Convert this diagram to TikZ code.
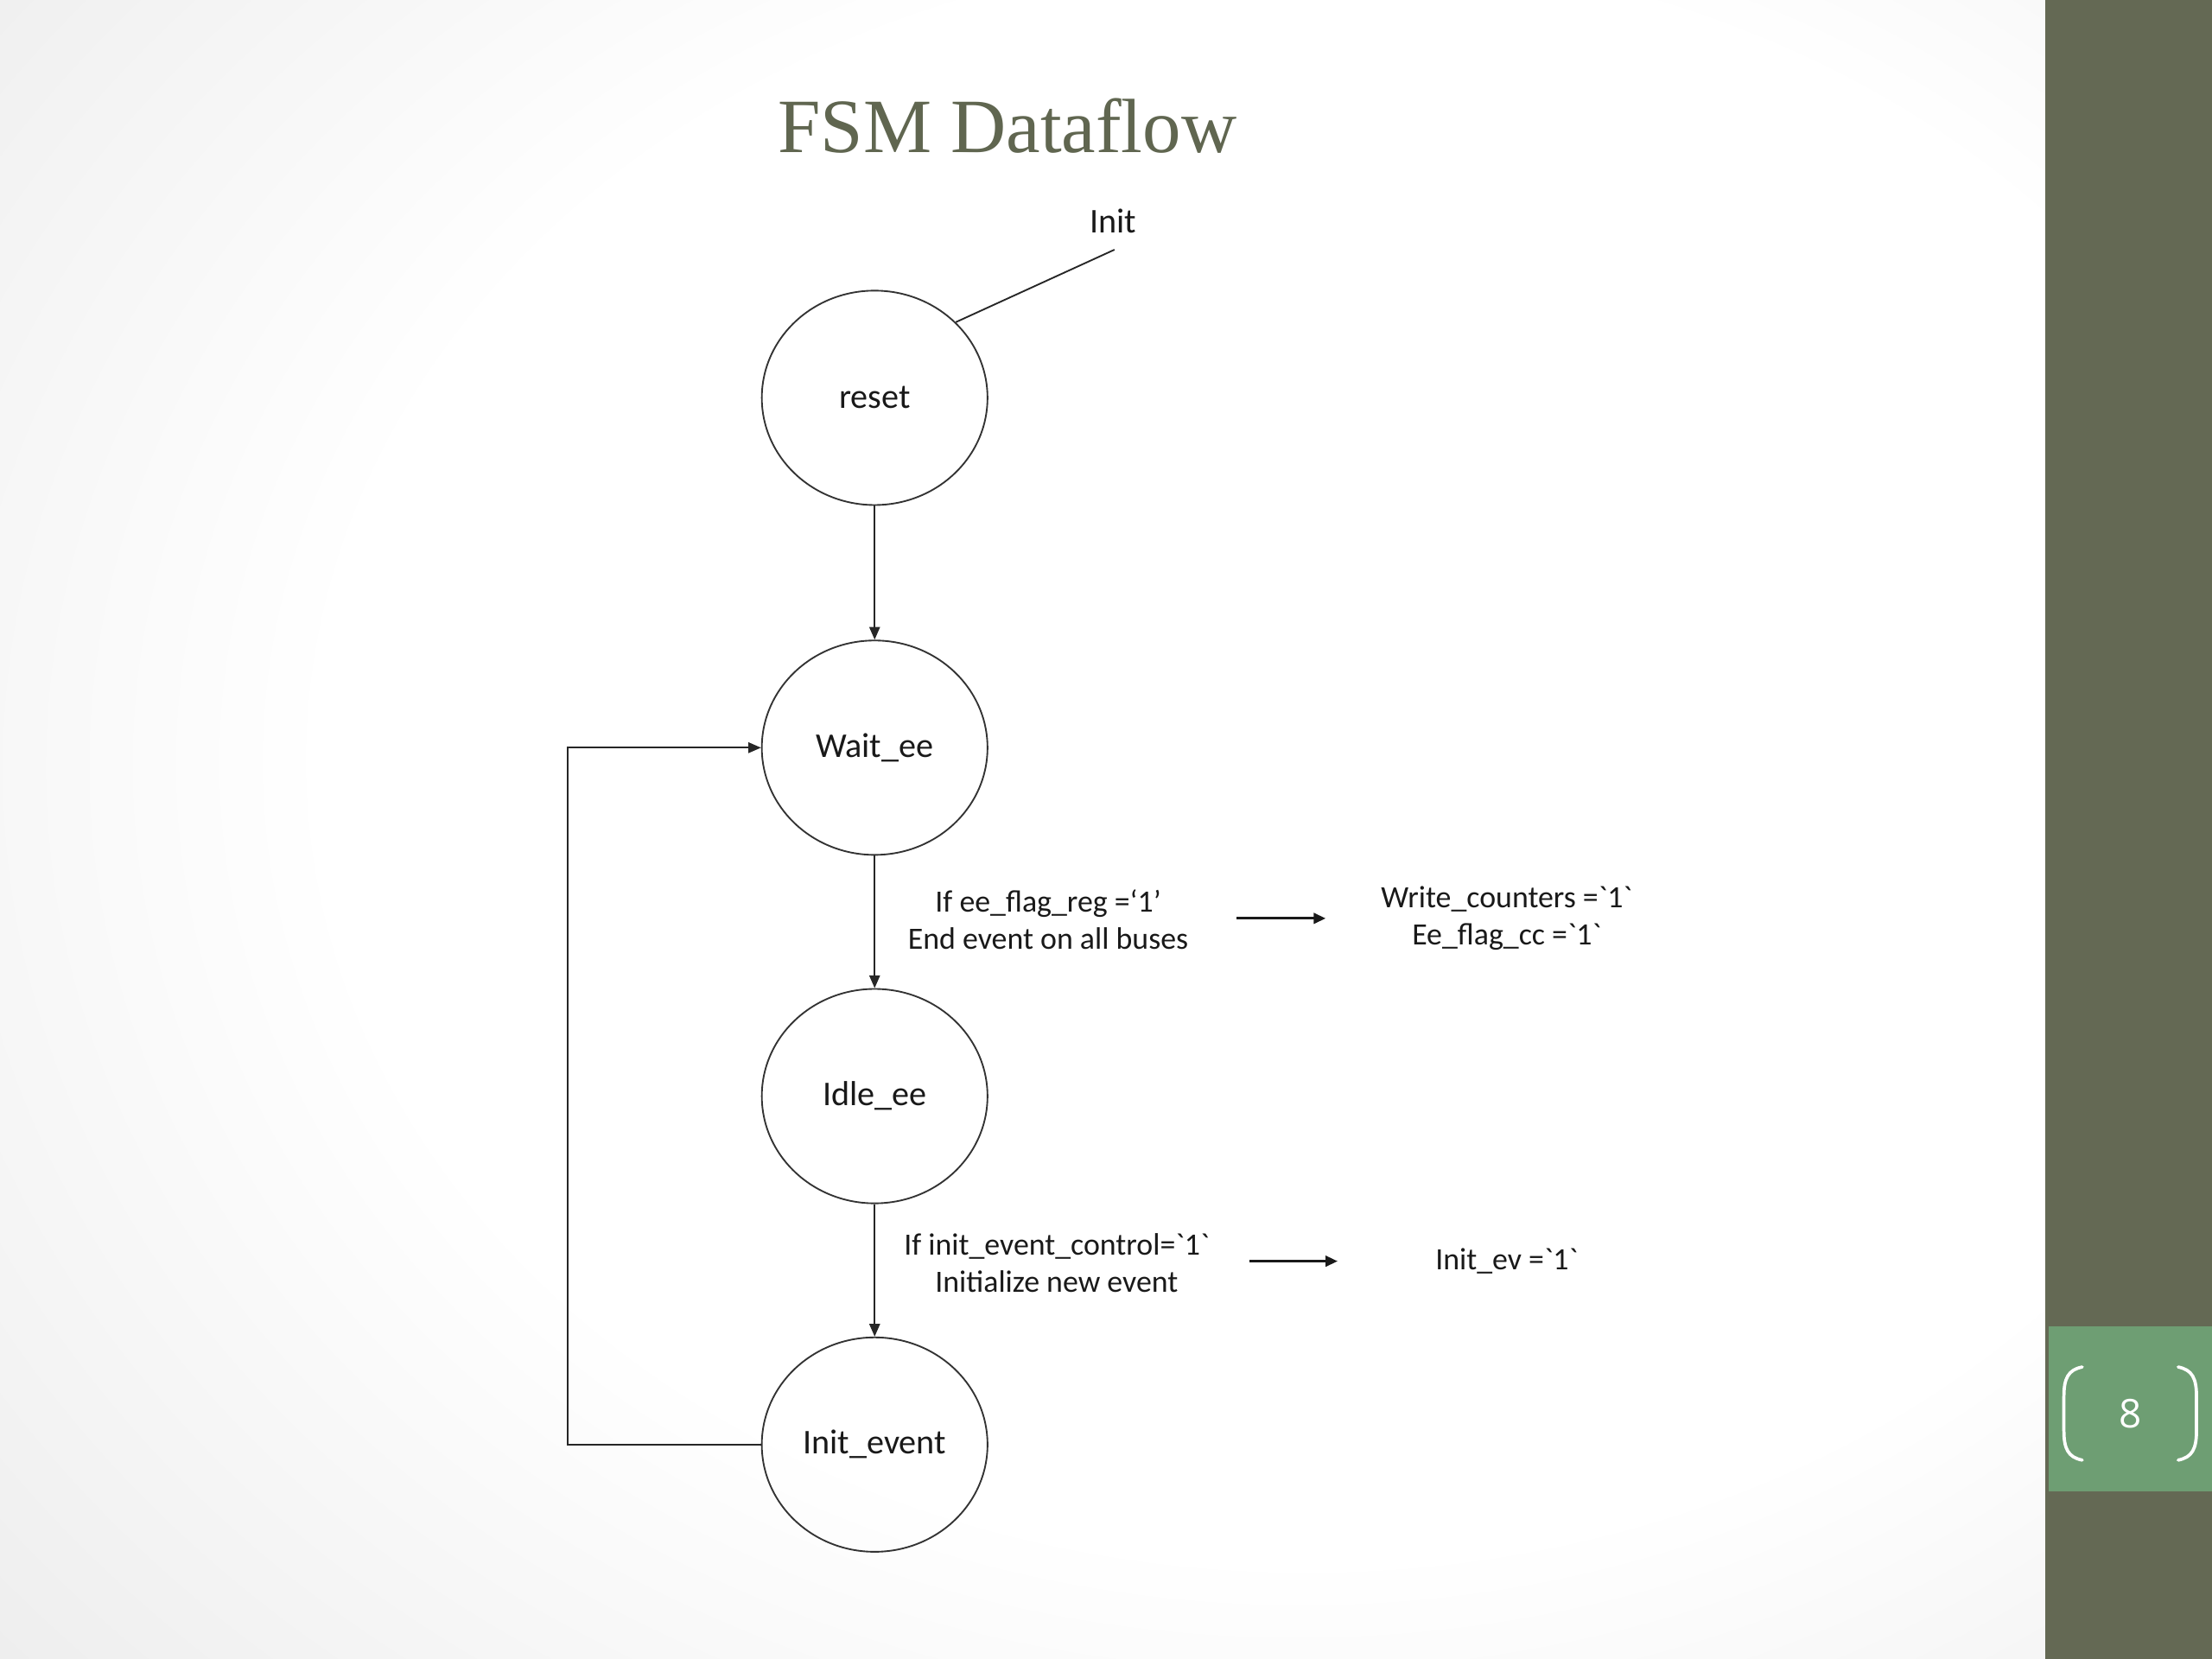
\documentclass[tikz,border=0pt]{standalone}
\usepackage{fontspec}
\setmainfont{Carlito}
\newfontfamily\titlefont{Liberation Serif}
\newfontfamily\numfont{Open Sans}
\usetikzlibrary{shapes.geometric,arrows.meta,positioning,calc}

\definecolor{titlecol}{RGB}{96,102,80}
\definecolor{barcol}{RGB}{100,105,84}
\definecolor{tabcol}{RGB}{110,158,115}
\pgfdeclareradialshading{slidebg}{\pgfpoint{10bp}{3bp}}{color(0bp)=(white); color(24bp)=(white); color(48bp)=(black!10); color(80bp)=(black!18)}

\begin{document}
\begin{tikzpicture}[x=0.02cm,y=-0.02cm]

  \tikzstyle{state} = [draw=black!80, ellipse, minimum width=3.2cm, minimum height=3.04cm, line width=0.65pt, font=\fontsize{14}{16}\selectfont, text=black!90]
  \tikzstyle{cond} = [align=center, inner sep=0pt, font=\fontsize{12.5}{15}\selectfont, text=black!90]
  \tikzstyle{trans} = [-{Triangle[length=0.18cm,width=0.15cm]}, color=black!85, line width=0.65pt]
  \tikzstyle{outarrow} = [-{Triangle[length=0.17cm,width=0.15cm]}, color=black!90, line width=1pt]

  \useasboundingbox (0,0) rectangle (1568,1176);

  % slide background
  \shade[shading=slidebg] (0,0) rectangle (1450,1176);
  \fill[barcol] (1450,0) rectangle (1568,1176);
  \fill[tabcol] (1452,940) rectangle (1568,1057);
  \draw[white, line width=1.3pt, line cap=round] (1476,969) .. controls (1466,971) and (1463,977) .. (1463,990) -- (1463,1014) .. controls (1463,1027) and (1466,1033) .. (1476,1035);
  \draw[white, line width=1.3pt, line cap=round] (1544,969) .. controls (1554,971) and (1557,977) .. (1557,990) -- (1557,1014) .. controls (1557,1027) and (1554,1033) .. (1544,1035);
  \node[text=white, font=\numfont\fontsize{16}{18}\selectfont] (pagenum) at (1510,1002) {8};

  \node[text=titlecol, font=\titlefont\fontsize{31}{36}\selectfont] (title) at (714,89) {FSM Dataflow};

  % states
  \node[state] (reset) at (620,282) {reset};
  \node[state] (wait) at (620,530) {Wait\_ee};
  \node[state] (idle) at (620,777) {Idle\_ee};
  \node[state] (initev) at (620,1024) {Init\_event};

  \node[font=\fontsize{14}{16}\selectfont, text=black!90] (initlbl) at (789,157) {Init};
  \coordinate (initsrc) at (790,177);

  % conditions and outputs
  \node[cond] (cond1) at (743,652) {If ee\_flag\_reg =‘1’\\End event on all buses};
  \node[cond] (out1) at (1068,651) {Write\_counters =\textasciigrave 1\textasciigrave\\Ee\_flag\_cc =\textasciigrave 1\textasciigrave};
  \node[cond] (cond2) at (749,895) {If init\_event\_control=\textasciigrave 1\textasciigrave\\Initialize new event};
  \node[cond] (out2) at (1068,894) {Init\_ev =\textasciigrave 1\textasciigrave};

  \draw[color=black!85, line width=0.65pt] (initsrc) -- (reset.43);
  \draw[trans] (reset) -- (wait);
  \draw[trans] (wait) -- (idle);
  \draw[trans] (idle) -- (initev);
  \draw[trans] (initev.west) -- ++(-137,0) |- (wait.west);

  \draw[outarrow] (cond1.east |- out1.west) ++(34,0) -- ($(out1.west)+(-39,0)$);
  \draw[outarrow] (cond2.east |- out2.west) ++(28,0) -- ($(out2.west)+(-69,0)$);

\end{tikzpicture}
\end{document}
